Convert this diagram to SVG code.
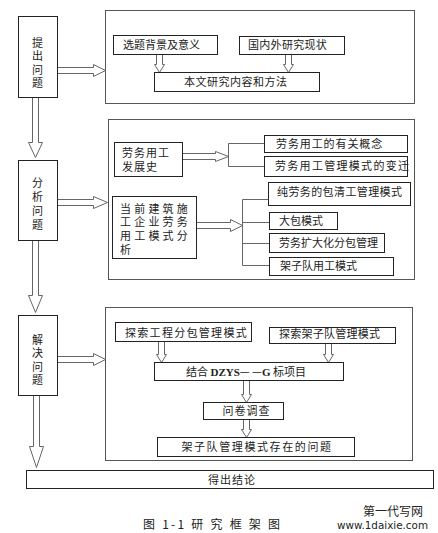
<svg xmlns="http://www.w3.org/2000/svg" width="438" height="533" viewBox="0 0 438 533">
<style>
.box{fill:#fff;stroke:#222;stroke-width:1}
.frame{fill:#fff;stroke:#555;stroke-width:1}
.arr{fill:#fff;stroke:#666;stroke-width:1}
.ln{fill:none;stroke:#666;stroke-width:1}
text{font-family:"Noto Sans CJK SC","Noto Sans",sans-serif;font-size:11px;fill:#222}
.c{text-anchor:middle}
.v{writing-mode:vertical-rl;text-orientation:upright}
.m{font-family:"Liberation Sans","Noto Sans CJK SC",sans-serif}
</style>
<rect width="438" height="533" fill="#fff"/>
<g id="frame1"><rect class="frame" x="105.5" y="10.5" width="309" height="93"/></g>
<g id="frame2"><rect class="frame" x="108.5" y="119.5" width="306" height="160"/></g>
<g id="frame3"><rect class="frame" x="105.5" y="307.5" width="307" height="153"/></g>

<g id="connectors">
<polygon class="arr" points="32.5,97.5 32.5,142.5 28.5,142.5 35.5,157.5 42.5,142.5 38.5,142.5 38.5,97.5"/>
<polygon class="arr" points="32.5,240.5 32.5,295.5 28.5,295.5 35.5,312.5 42.5,295.5 38.5,295.5 38.5,240.5"/>
<polygon class="arr" points="33.5,395.5 33.5,446.5 29.5,446.5 36.5,467.5 43.5,446.5 39.5,446.5 39.5,395.5"/>
<polygon class="arr" points="57.5,67.5 93.5,67.5 93.5,64.5 105.5,70.5 93.5,76.5 93.5,73.5 57.5,73.5"/>
<polygon class="arr" points="57.5,199.5 93.5,199.5 93.5,196.5 107.5,202.5 93.5,208.5 93.5,205.5 57.5,205.5"/>
<polygon class="arr" points="57.5,356.5 93.5,356.5 93.5,353.5 105.5,359.5 93.5,365.5 93.5,362.5 57.5,362.5"/>
<polygon class="arr" points="156.5,54.5 156.5,64.5 154.5,64.5 159.5,72.5 164.5,64.5 162.5,64.5 162.5,54.5"/>
<polygon class="arr" points="285.5,54.5 285.5,64.5 283.5,64.5 288.5,72.5 293.5,64.5 291.5,64.5 291.5,54.5"/>
<polygon class="arr" points="182.5,153.5 215.5,153.5 215.5,151.5 228.5,156.5 215.5,161.5 215.5,159.5 182.5,159.5"/>
<polygon class="arr" points="196.5,222.5 230.5,222.5 230.5,219.5 242.5,225.5 230.5,231.5 230.5,228.5 196.5,228.5"/>
<path class="ln" d="M228.5,143.5V166.5M228.5,143.5H264M228.5,166.5H264"/>
<path class="ln" d="M242.5,199.5V265.5M242.5,199.5H268M242.5,222.5H269M242.5,243.5H269M242.5,265.5H269"/>
<polygon class="arr" points="158.5,341.5 158.5,354.5 156.5,354.5 161.5,362.5 166.5,354.5 164.5,354.5 164.5,341.5"/>
<polygon class="arr" points="325.5,343.5 325.5,354.5 323.5,354.5 328.5,362.5 333.5,354.5 331.5,354.5 331.5,343.5"/>
<polygon class="arr" points="243.5,380.5 243.5,394.5 241.5,394.5 246.5,402.5 251.5,394.5 249.5,394.5 249.5,380.5"/>
<polygon class="arr" points="243.5,419.5 243.5,429.5 241.5,429.5 246.5,437.5 251.5,429.5 249.5,429.5 249.5,419.5"/>
</g>

<g id="n-tichu"><rect class="box" x="18.5" y="16.5" width="39" height="81"/>
<text class="v" x="37.5" y="37.5" letter-spacing="2.3">提出问题</text></g>
<g id="n-fenxi"><rect class="box" x="18.5" y="160.5" width="39" height="80"/>
<text class="v" x="37.5" y="177.5" letter-spacing="3">分析问题</text></g>
<g id="n-jiejue"><rect class="box" x="18.5" y="315.5" width="39" height="80"/>
<text class="v" x="37.5" y="334.5" letter-spacing="2.3">解决问题</text></g>

<g id="n-xuanti"><rect class="box" x="113.5" y="35.5" width="104" height="19"/><text x="123" y="48.5">选题背景及意义</text></g>
<g id="n-guoneiwai"><rect class="box" x="239.5" y="36.5" width="105" height="18"/><text x="248" y="49" letter-spacing="0.3">国内外研究现状</text></g>
<g id="n-benwen"><rect class="box" x="154.5" y="72.5" width="165" height="19"/><text x="184" y="85.5" letter-spacing="0.5">本文研究内容和方法</text></g>

<g id="n-fazhan"><rect class="box" x="114.5" y="142.5" width="68" height="34"/><text class="m" x="122" y="157" letter-spacing="1">劳务用工<tspan x="122" y="171">发展史</tspan></text></g>
<g id="n-dangqian"><rect class="box" x="112.5" y="196.5" width="84" height="62"/>
<text class="m" x="120" y="213" letter-spacing="3.2">当前建筑施<tspan x="120" y="226">工企业劳务</tspan><tspan x="120" y="240">用工模式分</tspan><tspan x="120" y="253.5">析</tspan></text></g>
<g id="n-gainian"><rect class="box" x="264.5" y="135.5" width="143" height="17"/><text x="276" y="148" letter-spacing="0.9">劳务用工的有关概念</text></g>
<g id="n-bianqian"><rect class="box" x="264.5" y="156.5" width="143" height="20"/><text x="275" y="170" letter-spacing="1.3">劳务用工管理模式的变迁</text></g>
<g id="n-chun"><rect class="box" x="268.5" y="182.5" width="142" height="23"/><text x="277" y="195.5" letter-spacing="0.4">纯劳务的包清工管理模式</text></g>
<g id="n-dabao"><rect class="box" x="269.5" y="212.5" width="68" height="17"/><text x="279" y="225">大包模式</text></g>
<g id="n-kuoda"><rect class="box" x="269.5" y="233.5" width="115" height="19"/><text x="279" y="247">劳务扩大化分包管理</text></g>
<g id="n-jiazidui-yg"><rect class="box" x="269.5" y="257.5" width="124" height="18"/><text x="280" y="270">架子队用工模式</text></g>

<g id="n-tansuo1"><rect class="box" x="115.5" y="322.5" width="136" height="19"/><text x="125" y="337" letter-spacing="1.3">探索工程分包管理模式</text></g>
<g id="n-tansuo2"><rect class="box" x="269.5" y="327.5" width="126" height="16"/><text x="279" y="338" letter-spacing="0.25">探索架子队管理模式</text></g>
<g id="n-jiehe"><rect class="box" x="154.5" y="362.5" width="189" height="18"/><text class="c" x="246" y="375.5">结合 <tspan font-family="Liberation Serif" font-weight="bold">DZYS</tspan>— —<tspan font-family="Liberation Serif" font-weight="bold">G</tspan> 标项目</text></g>
<g id="n-wenjuan"><rect class="box" x="203.5" y="402.5" width="80" height="17"/><text class="c" x="246.5" y="415" letter-spacing="1">问卷调查</text></g>
<g id="n-wenti"><rect class="box" x="157.5" y="437.5" width="197" height="19"/><text class="c" x="257" y="451" letter-spacing="1.6">架子队管理模式存在的问题</text></g>
<g id="n-jielun"><rect class="box" x="26.5" y="470.5" width="407" height="18"/><text class="c" x="232" y="484" letter-spacing="1">得出结论</text></g>

<text x="423" y="515.5" style="text-anchor:end;font-size:12px">第一代写网</text>
<text x="428" y="529" style="text-anchor:end;font-family:'DejaVu Sans',sans-serif;font-size:11px" textLength="91" lengthAdjust="spacingAndGlyphs">www.1daixie.com</text>
<text class="c" x="211.5" y="529" style="font-size:12px" textLength="137" lengthAdjust="spacing">图 1-1  研 究 框 架 图</text>
</svg>
